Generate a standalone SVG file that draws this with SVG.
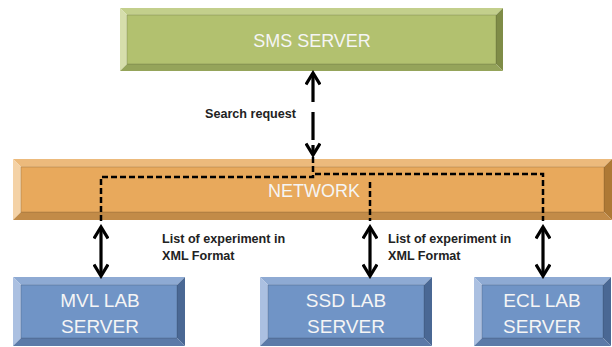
<svg xmlns="http://www.w3.org/2000/svg" width="612" height="347" viewBox="0 0 612 347">
<style>
.g-face{fill:#b2c16f}.g-top{fill:#c3cf8c}.g-left{fill:#d6deac}.g-right{fill:#7f8c47}.g-bot{fill:#95a45a}
.o-face{fill:#e8a95c}.o-top{fill:#ecba7c}.o-left{fill:#f4d2a6}.o-right{fill:#ae7935}.o-bot{fill:#c28b48}
.b-face{fill:#7094c6}.b-top{fill:#8eaad3}.b-left{fill:#abc0e1}.b-right{fill:#4a6894}.b-bot{fill:#5b7aa8}
.face{stroke-opacity:0.25;stroke:#000;stroke-width:0.6}
.lbl{font-family:"Liberation Sans",Arial,sans-serif;fill:#f5f5f5;text-anchor:middle}
.note{font-family:"Liberation Sans",Arial,sans-serif;font-weight:bold;font-size:12.6px;fill:#222}
.dash{fill:none;stroke:#000;stroke-width:2.5;stroke-dasharray:6 3}
.arr{fill:none;stroke:#000;stroke-width:3.2}
</style>
<defs>
<marker id="chev" viewBox="0 0 16 16" refX="13" refY="8" markerWidth="16" markerHeight="16" markerUnits="userSpaceOnUse" orient="auto-start-reverse">
<path d="M1.5,1 L13,8 L1.5,15" fill="none" stroke="#000" stroke-width="3.2"/>
</marker>
</defs>

<g id="sms-server">
<polygon class="g-top" points="120,8 503,8 496,15 127,15"/>
<polygon class="g-left" points="120,8 127,15 127,64 120,71"/>
<polygon class="g-right" points="503,8 503,71 496,64 496,15"/>
<polygon class="g-bot" points="120,71 127,64 496,64 503,71"/>
<rect class="g-face face" x="127" y="15" width="369" height="49"/>
<text class="lbl" x="312" y="47" font-size="18">SMS SERVER</text>
</g>

<g id="network">
<polygon class="o-top" points="13,159 612,159 604,167 21,167"/>
<polygon class="o-left" points="13,159 21,167 21,212 13,220"/>
<polygon class="o-right" points="612,159 612,220 604,212 604,167"/>
<polygon class="o-bot" points="13,220 21,212 604,212 612,220"/>
<rect class="o-face face" x="21" y="167" width="583" height="45"/>
<text class="lbl" x="314" y="197" font-size="18">NETWORK</text>
</g>

<g id="mvl-lab-server">
<polygon class="b-top" points="13,277 185,277 177,285 21,285"/>
<polygon class="b-left" points="13,277 21,285 21,338 13,346"/>
<polygon class="b-right" points="185,277 185,346 177,338 177,285"/>
<polygon class="b-bot" points="13,346 21,338 177,338 185,346"/>
<rect class="b-face face" x="21" y="285" width="156" height="53"/>
<text class="lbl" x="100" y="307" font-size="19">MVL LAB</text>
<text class="lbl" x="100" y="333" font-size="19">SERVER</text>
</g>

<g id="ssd-lab-server">
<polygon class="b-top" points="260,277 432,277 424,285 268,285"/>
<polygon class="b-left" points="260,277 268,285 268,338 260,346"/>
<polygon class="b-right" points="432,277 432,346 424,338 424,285"/>
<polygon class="b-bot" points="260,346 268,338 424,338 432,346"/>
<rect class="b-face face" x="268" y="285" width="156" height="53"/>
<text class="lbl" x="346" y="307" font-size="19">SSD LAB</text>
<text class="lbl" x="346" y="333" font-size="19">SERVER</text>
</g>

<g id="ecl-lab-server">
<polygon class="b-top" points="474,277 611,277 603,285 482,285"/>
<polygon class="b-left" points="474,277 482,285 482,338 474,346"/>
<polygon class="b-right" points="611,277 611,346 603,338 603,285"/>
<polygon class="b-bot" points="474,346 482,338 603,338 611,346"/>
<rect class="b-face face" x="482" y="285" width="121" height="53"/>
<text class="lbl" x="542" y="307" font-size="19">ECL LAB</text>
<text class="lbl" x="542" y="333" font-size="19">SERVER</text>
</g>

<g id="connectors">
<path class="dash" d="M101,221 V177 H313 V174 H543 V221"/>
<path class="dash" d="M313,157 V174"/>
<path class="dash" d="M370,182 V221"/>
<line class="arr" x1="313" y1="102" x2="313" y2="73" marker-end="url(#chev)"/>
<line class="arr" x1="313" y1="112" x2="313" y2="140"/>
<line class="arr" x1="313" y1="145" x2="313" y2="155" marker-end="url(#chev)"/>
<line class="arr" x1="101" y1="227" x2="101" y2="276" marker-start="url(#chev)" marker-end="url(#chev)"/>
<line class="arr" x1="370" y1="227" x2="370" y2="276" marker-start="url(#chev)" marker-end="url(#chev)"/>
<line class="arr" x1="543" y1="227" x2="543" y2="276" marker-start="url(#chev)" marker-end="url(#chev)"/>
<text class="note" x="205" y="118">Search request</text>
<text class="note" x="162" y="243">List of experiment in</text>
<text class="note" x="162" y="260">XML Format</text>
<text class="note" x="388" y="243">List of experiment in</text>
<text class="note" x="388" y="260">XML Format</text>
</g>
</svg>
